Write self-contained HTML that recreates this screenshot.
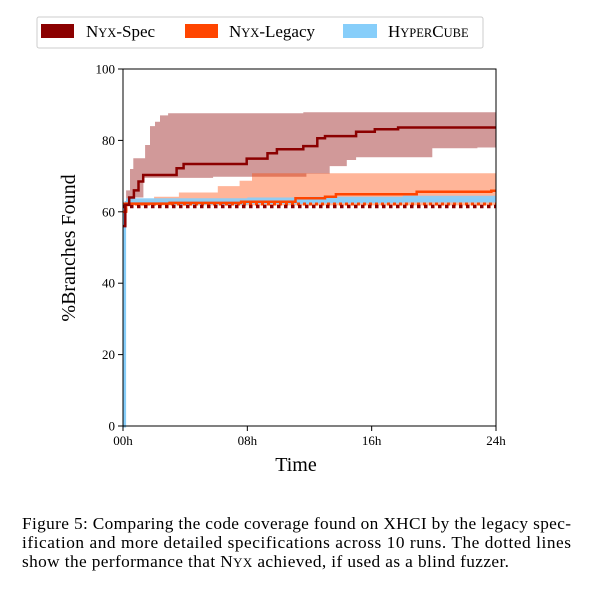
<!DOCTYPE html>
<html><head><meta charset="utf-8"><style>
body{margin:0;background:#fff;width:592px;height:586px;overflow:hidden;font-family:"Liberation Serif",serif}
svg text{font-family:"Liberation Serif",serif}
</style></head><body>
<svg id="chart" width="592" height="586" xmlns="http://www.w3.org/2000/svg">
<g>
<rect x="37" y="17" width="446" height="31" fill="#fff" stroke="#ccc" stroke-width="1" rx="2"/>
<rect x="41" y="24" width="33" height="14" fill="#8b0000"/>
<text x="86" y="37" font-size="17">N<tspan font-size="12.5">YX</tspan>-Spec</text>
<rect x="185" y="24" width="33" height="14" fill="#ff4500"/>
<text x="229" y="37" font-size="17">N<tspan font-size="12.5">YX</tspan>-Legacy</text>
<rect x="343" y="24" width="34" height="14" fill="#87cefa"/>
<text x="388" y="37" font-size="17">H<tspan font-size="12.5">YPER</tspan>C<tspan font-size="12.5">UBE</tspan></text>
</g>
<g id="plot"></g>
<text transform="translate(75,248) rotate(-90)" text-anchor="middle" font-size="20">%Branches Found</text>
<text x="296" y="471" text-anchor="middle" font-size="20">Time</text>
<g font-size="17.3">
<text x="22" y="529" textLength="549" lengthAdjust="spacing">Figure 5: Comparing the code coverage found on XHCI by the legacy spec-</text>
<text x="22" y="548" textLength="549" lengthAdjust="spacing">ification and more detailed specifications across 10 runs. The dotted lines</text>
<text x="22" y="567" textLength="487" lengthAdjust="spacing">show the performance that N<tspan font-size="13">YX</tspan> achieved, if used as a blind fuzzer.</text>
</g>
</svg>
<script>
const specT=[0,0.15,0.4,0.7,1.0,1.3,3.45,3.9,7.96,9.3,9.9,11.6,12.5,13.0,15.0,16.2,17.7,24];
const specMed=[56,62,64,66,68.5,70.3,72.2,73.4,74.9,76.4,77.5,78.4,80.6,81.2,82.4,83.1,83.6,83.6];
const specBandT=[0,0.2,0.45,0.66,1.31,1.42,1.74,2.06,2.38,2.9,5.8,11.6,11.8,13.3,14.4,15.0,19.9,22.8,24];
const specHi=[62,66,72,75,75,78.7,84,85.2,87,87.6,87.6,87.9,87.9,87.9,87.9,87.9,87.9,87.9,87.9];
const specLo=[58,61.5,62.5,64,69.5,69.5,69.5,69.5,69.5,69.5,69.8,69.8,70.7,72.8,74.5,75.3,77.8,78,78];
const legT=[0,0.2,3,7.6,11.1,13.0,13.7,18.9,23.7,24];
const legMed=[60,62.3,62.5,62.8,63.8,64.2,64.9,65.6,65.9,65.9];
const legBandT=[0,0.3,2.0,3.6,6.1,7.5,8.3,24];
const legHi=[61,63.5,64.2,65.4,67.2,68.7,70.8,70.8];
const legLo=[60,61.8,61.8,61.8,61.8,61.8,61.8,61.8];
const hcT=[0,0.1,0.2,4,8,12,18,24];
const hcHi=[0,63,63.8,63.8,64,64.2,64.5,64.5];
const hcLo=[0,61.5,62,62,62.2,62.4,62.6,62.6];
const hcMed=[0,62.2,62.6,62.7,62.9,63.1,63.4,63.4];
const dotSpec=61.5, dotLeg=62.2;
const yTicks=[0,20,40,60,80,100];
const xTicks=[0,8,16,24];
const xTickLabels=["00h","08h","16h","24h"];

const NS="http://www.w3.org/2000/svg";
const L=123,R=496,T=69,B=426;
const xs=t=>L+(t/24)*(R-L);
const ys=v=>B-(v/100)*(B-T);
const plot=document.getElementById('plot');
function mk(tag,attrs){const e=document.createElementNS(NS,tag);for(const k in attrs)e.setAttribute(k,attrs[k]);plot.appendChild(e);return e;}
function stepPts(t,v){let p=[];for(let i=0;i<t.length;i++){if(i>0)p.push([xs(t[i]),ys(v[i-1])]);p.push([xs(t[i]),ys(v[i])]);}return p;}
function line(t,v){return 'M'+stepPts(t,v).map(p=>p[0].toFixed(1)+','+p[1].toFixed(1)).join('L');}
function band(t1,hi,t2,lo){const a=stepPts(t1,hi),b=stepPts(t2,lo).reverse();return 'M'+a.concat(b).map(p=>p[0].toFixed(1)+','+p[1].toFixed(1)).join('L')+'Z';}

const sb=mk('path',{d:band(specBandT,specHi,specBandT,specLo),fill:'#8b0000','fill-opacity':0.4});


const lb=mk('path',{d:band(legBandT,legHi,legBandT,legLo),fill:'#ff4500','fill-opacity':0.4});


const hb=mk('path',{d:band(hcT,hcHi,hcT,hcLo),fill:'#87cefa','fill-opacity':0.9});


const hl=mk('path',{d:line(hcT,hcMed),fill:'none',stroke:'#87cefa','stroke-width':3});


const dl=mk('line',{x1:xs(0),x2:xs(24),y1:ys(dotLeg),y2:ys(dotLeg),stroke:'#ff4500','stroke-width':3,'stroke-dasharray':'3,3'});


const ds=mk('line',{x1:xs(0),x2:xs(24),y1:ys(dotSpec),y2:ys(dotSpec),stroke:'#8b0000','stroke-width':3.5,'stroke-dasharray':'3.5,3.5'});


const ll=mk('path',{d:line(legT,legMed),fill:'none',stroke:'#ff4500','stroke-width':2.5});


const sl=mk('path',{d:line(specT,specMed),fill:'none',stroke:'#8b0000','stroke-width':2.5});


const fr=mk('rect',{x:L,y:T,width:R-L,height:B-T,fill:'none',stroke:'#000','stroke-width':1});


yTicks.forEach(v=>{
 const tk=mk('line',{x1:L-5,x2:L,y1:ys(v),y2:ys(v),stroke:'#000'});
 
 
 const tx=mk('text',{x:L-8,y:ys(v)+4.5,'text-anchor':'end','font-size':13});
 tx.textContent=v;
 
 
});
xTicks.forEach((t,i)=>{
 const tk=mk('line',{x1:xs(t),x2:xs(t),y1:B,y2:B+5,stroke:'#000'});
 
 
 const tx=mk('text',{x:xs(t),y:B+19,'text-anchor':'middle','font-size':13});
 tx.textContent=xTickLabels[i];
 
 
});
</script>
</body></html>
